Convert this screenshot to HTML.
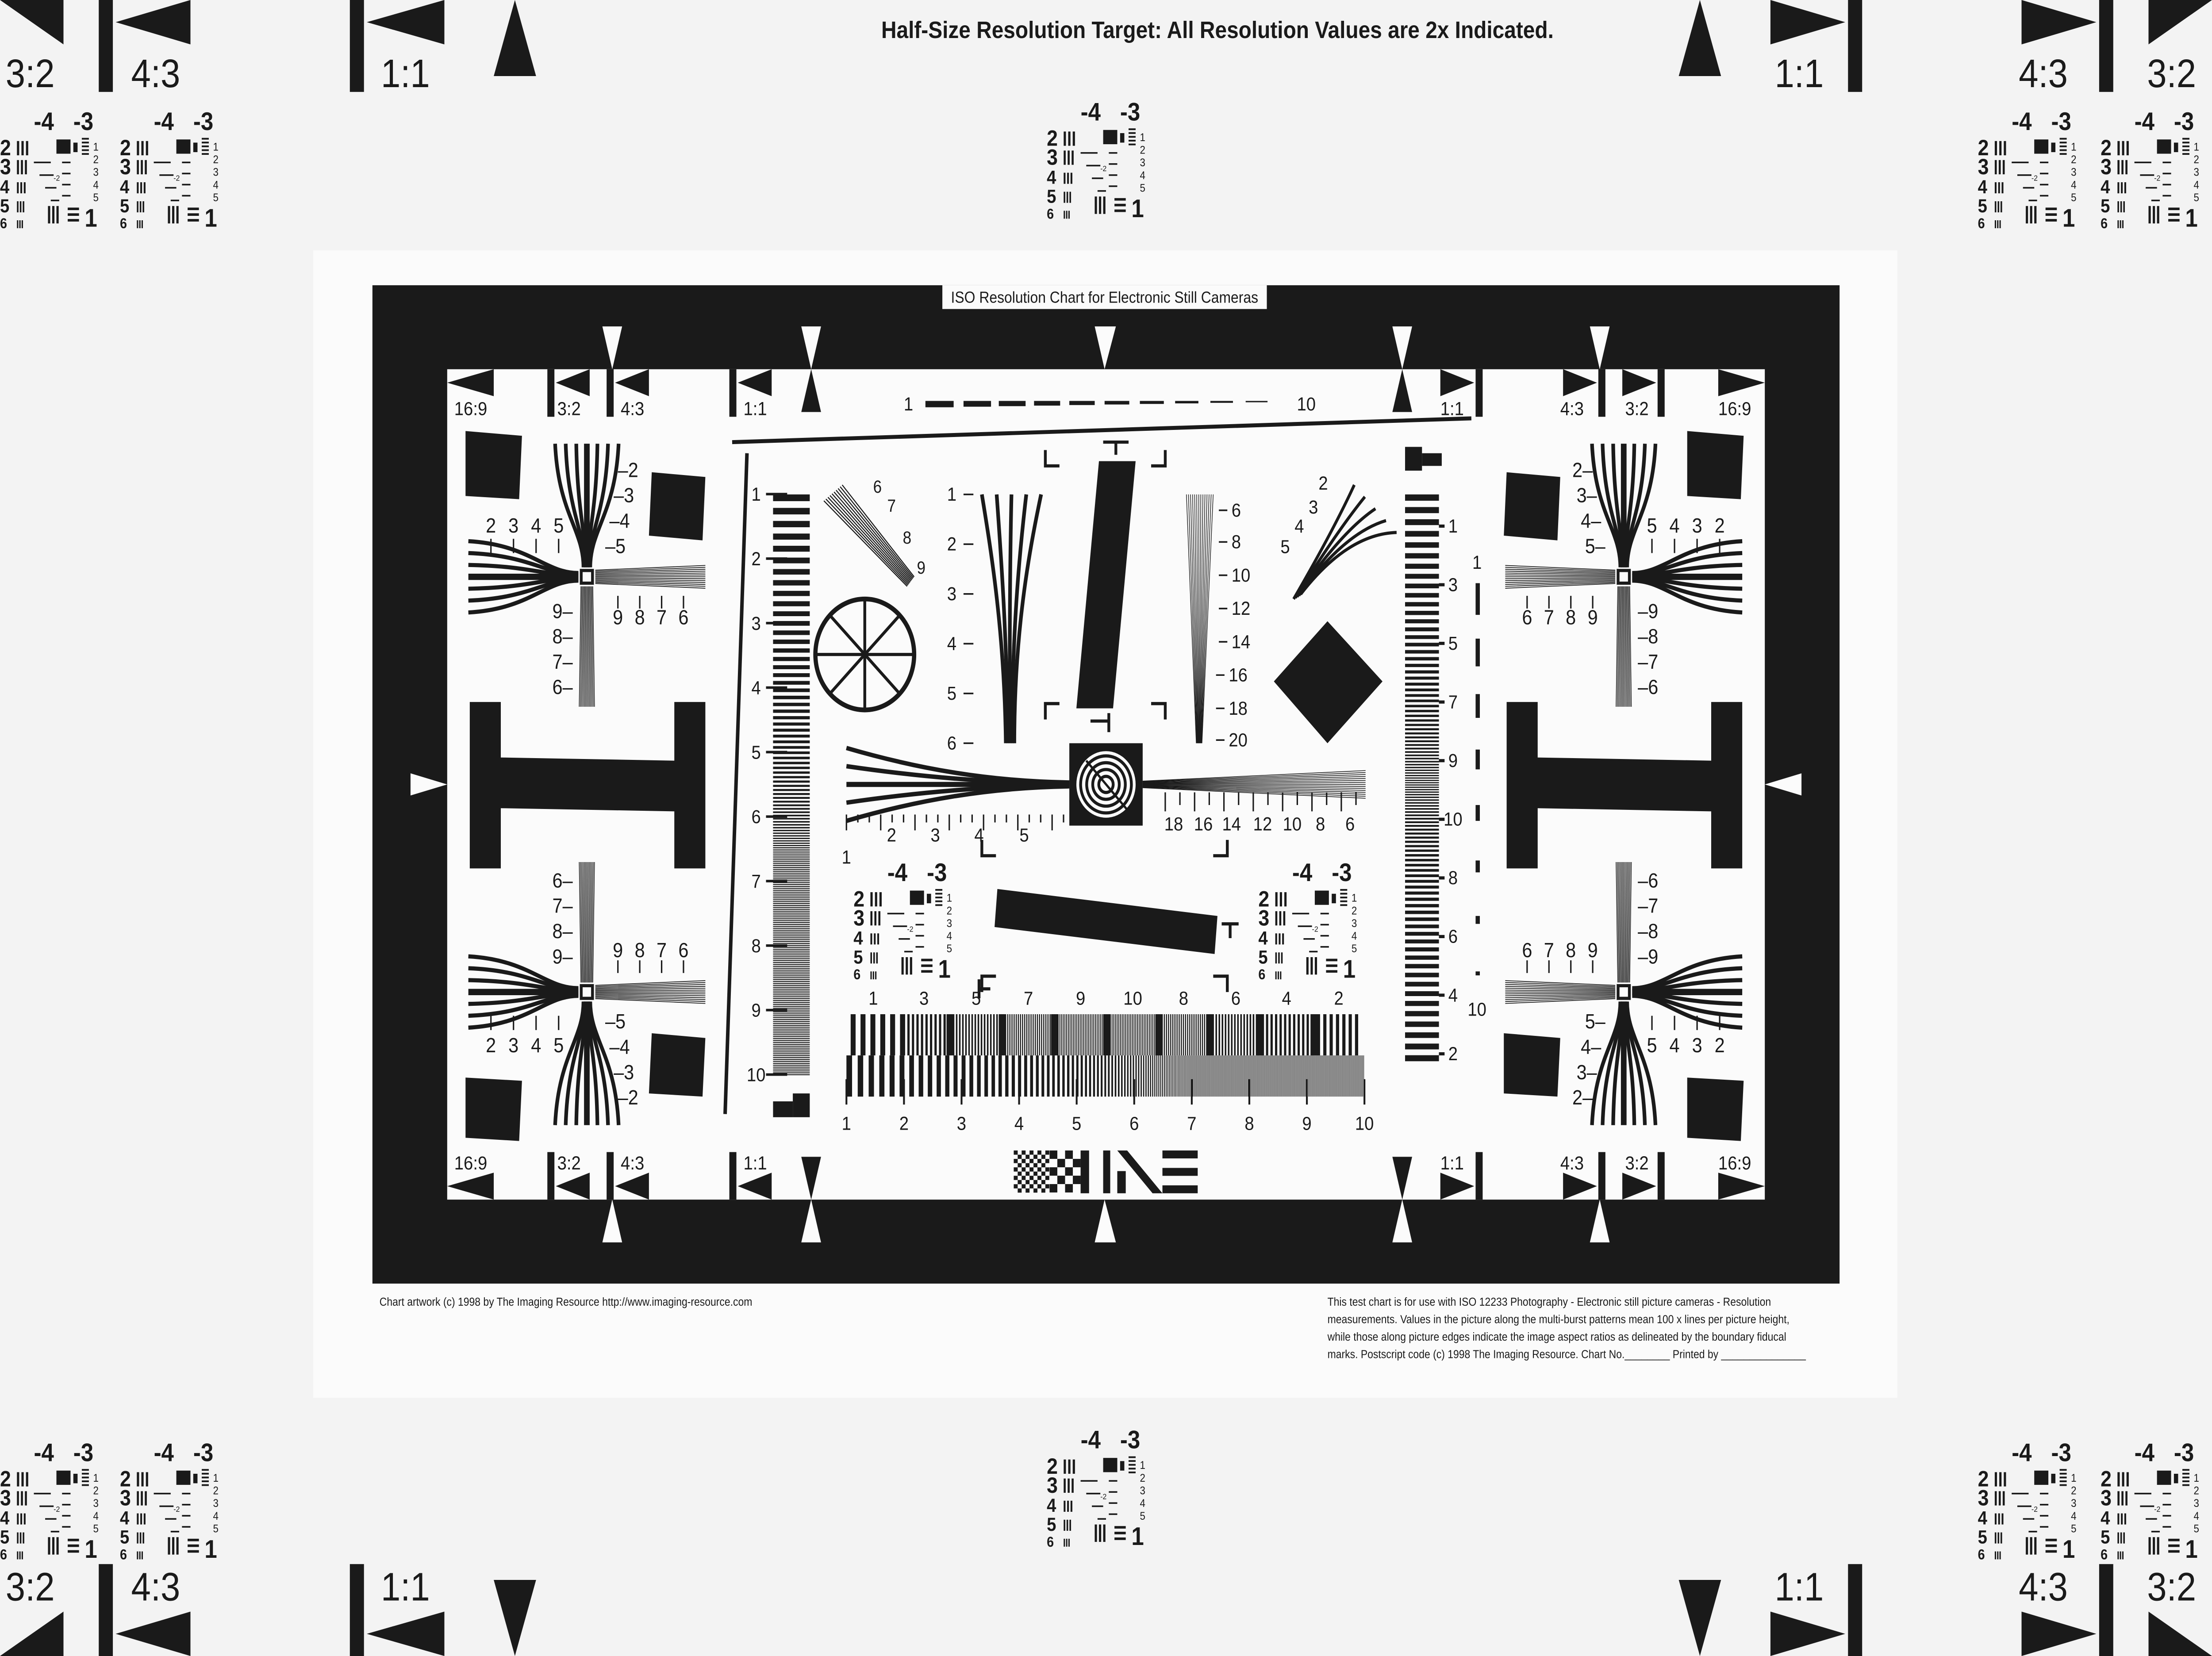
<!DOCTYPE html>
<html><head><meta charset="utf-8">
<style>
html,body{margin:0;padding:0;background:#f3f3f3;width:100%;height:100%;overflow:hidden;}
svg{display:block;position:absolute;left:0;top:0;width:100vw;height:100vh;}
text{font-family:"Liberation Sans",sans-serif;fill:#1a1a1a;}
</style></head>
<body>
<svg id="s" viewBox="0 0 1568 1045" preserveAspectRatio="none" xmlns="http://www.w3.org/2000/svg">
<rect x="0" y="0" width="1568" height="1045" fill="#f3f3f3"/>
<g fill="#1a1a1a">
<polygon points="0,0 45,0 45,28"/><rect x="70" y="0" width="10" height="58"/><polygon points="82,14 135,0 135,28"/>
<rect x="248" y="0" width="10" height="58"/><polygon points="260,14 315,0 315,28"/>
<polygon points="365,0 380,48 350,48"/>
<polygon points="1568,0 1523,0 1523,28"/><rect x="1488" y="0" width="10" height="58"/><polygon points="1486,14 1433,0 1433,28"/>
<rect x="1310" y="0" width="10" height="58"/><polygon points="1308,14 1255,0 1255,28"/>
<polygon points="1205,0 1220,48 1190,48"/>
<polygon points="0,1045 45,1045 45,1017"/><rect x="70" y="987" width="10" height="58"/><polygon points="82,1031 135,1017 135,1045"/>
<rect x="248" y="987" width="10" height="58"/><polygon points="260,1031 315,1017 315,1045"/>
<polygon points="350,997 380,997 365,1045"/>
<polygon points="1568,1045 1523,1045 1523,1017"/><rect x="1488" y="987" width="10" height="58"/><polygon points="1486,1031 1433,1017 1433,1045"/>
<rect x="1310" y="987" width="10" height="58"/><polygon points="1308,1031 1255,1017 1255,1045"/>
<polygon points="1190,997 1220,997 1205,1045"/>
</g>
<g font-size="25">
<text x="4" y="55">3:2</text><text x="93" y="55">4:3</text><text x="270" y="55">1:1</text>
<text x="1258" y="55">1:1</text><text x="1431" y="55">4:3</text><text x="1522" y="55">3:2</text>
<text x="4" y="1010">3:2</text><text x="93" y="1010">4:3</text><text x="270" y="1010">1:1</text>
<text x="1258" y="1010">1:1</text><text x="1431" y="1010">4:3</text><text x="1522" y="1010">3:2</text>
</g>
<text x="863" y="24" font-size="15" font-weight="bold" text-anchor="middle">Half-Size Resolution Target: All Resolution Values are 2x Indicated.</text>
<rect x="222" y="158" width="1123" height="724" fill="#fbfbfb"/>
<rect x="264" y="180" width="1040" height="630" fill="#1a1a1a"/>
<rect x="317" y="233" width="934" height="524" fill="#fbfbfb"/>
<rect x="668" y="180" width="230" height="15" fill="#fbfbfb"/>
<text x="783" y="191" font-size="10" text-anchor="middle">ISO Resolution Chart for Electronic Still Cameras</text>
<g id="g"></g>
<g font-size="7.2">
<text x="269" y="824">Chart artwork (c) 1998 by The Imaging Resource http://www.imaging-resource.com</text>
<text x="941" y="824">This test chart is for use with ISO 12233 Photography - Electronic still picture cameras - Resolution</text>
<text x="941" y="835">measurements. Values in the picture along the multi-burst patterns mean 100 x lines per picture height,</text>
<text x="941" y="846">while those along picture edges indicate the image aspect ratios as delineated by the boundary fiducal</text>
<text x="941" y="857">marks. Postscript code  (c) 1998 The Imaging Resource. Chart No.________ Printed by _______________</text>
</g>
</svg>
<script>
(function(){
var NS="http://www.w3.org/2000/svg",G=document.getElementById("g");
var cur=G;
function el(n,at,txt){var e=document.createElementNS(NS,n);for(var k in at)e.setAttribute(k,at[k]);if(txt!=null)e.textContent=txt;cur.appendChild(e);return e;}
function R(x,y,w,h,f){el("rect",{x:x,y:y,width:w,height:h,fill:f||"#1a1a1a"});}
function P(p,f){el("polygon",{points:p,fill:f||"#1a1a1a"});}
function L(x1,y1,x2,y2,w){el("line",{x1:x1,y1:y1,x2:x2,y2:y2,stroke:"#1a1a1a","stroke-width":w||1});}
function T(x,y,t,s,anc,b){var o={x:x,y:y,"font-size":s||12};if(anc)o["text-anchor"]=anc;if(b)o["font-weight"]="bold";el("text",o,t);}
function Pa(d,w){el("path",{d:d,fill:"none",stroke:"#1a1a1a","stroke-width":w||1});}
function grp(tr){var g=el("g",{transform:tr});cur=g;return g;}
function end(){cur=G;}
var i;
function fid(dir){
  var yb=dir>0?233:757, yt=dir>0?250:740, yc=(yb+yt)/2, by=dir>0?233:727;
  P("291,"+yb+" 317,"+yc+" 291,"+yt); P("317,"+yc+" 350,"+yb+" 350,"+yt);
  R(388,by,5,30); P("394,"+yc+" 418,"+yb+" 418,"+yt);
  R(430,by,5,30); P("436,"+yc+" 460,"+yb+" 460,"+yt);
  R(517,by,5,30); P("523,"+yc+" 547,"+yb+" 547,"+yt);
  P("1277,"+yb+" 1251,"+yc+" 1277,"+yt); P("1251,"+yc+" 1218,"+yb+" 1218,"+yt);
  R(1175,by,5,30); P("1174,"+yc+" 1150,"+yb+" 1150,"+yt);
  R(1133,by,5,30); P("1132,"+yc+" 1108,"+yb+" 1108,"+yt);
  R(1046,by,5,30); P("1045,"+yc+" 1021,"+yb+" 1021,"+yt);
}
fid(1);fid(-1);
[434,1134].forEach(function(x){P((x-7)+",206 "+(x+7)+",206 "+x+",233","#fbfbfb");P((x-7)+",784 "+(x+7)+",784 "+x+",757","#fbfbfb");});
[575,994].forEach(function(x){P((x-7)+",206 "+(x+7)+",206 "+x+",233","#fbfbfb");P((x-7)+",260 "+(x+7)+",260 "+x+",233");
  P((x-7)+",784 "+(x+7)+",784 "+x+",757","#fbfbfb");P((x-7)+",730 "+(x+7)+",730 "+x+",757");});
P("776,206 791,206 783,233","#fbfbfb");P("776,784 791,784 783,757","#fbfbfb");
P("291,488 317,495 291,502","#fbfbfb");P("1277,488 1251,495 1277,502","#fbfbfb");
[["16:9",322,262],["3:2",395,262],["4:3",440,262],["1:1",527,262],["1:1",1021,262],["4:3",1106,262],["3:2",1152,262],["16:9",1218,262]].forEach(function(v){
 T(v[1],v[2],v[0],12);T(v[1],v[2]+476,v[0],12);});
[[330,272,370,275,368,315,330,313],[462,298,500,301,498,341,460,338],
 [1196,272,1236,275,1234,315,1196,313],[1068,298,1106,301,1104,341,1066,338],
 [330,680,370,682,368,720,330,718],[462,652,500,655,498,692,460,690],
 [1066,652,1106,655,1104,692,1066,690],[1196,680,1236,682,1234,720,1196,718]].forEach(function(p){
 P(p[0]+","+p[1]+" "+p[2]+","+p[3]+" "+p[4]+","+p[5]+" "+p[6]+","+p[7]);});
function H(x){P((x)+",443 "+(x+22)+",443 "+(x+22)+",478 "+(x+145)+",480 "+(x+145)+",443 "+(x+167)+",443 "+(x+167)+",548 "+(x+145)+",548 "+(x+145)+",512 "+(x+22)+",510 "+(x+22)+",548 "+x+",548");}
H(333);H(1068);
function cross(cx,cy,sx,sy){
 grp("translate("+cx+","+cy+") scale("+sx+","+sy+")");
 for(i=-3;i<=3;i++){var d=i*7.5;Pa("M"+d+",-84 C"+(d*0.9)+",-40 "+(i*0.8)+",-30 "+(i*0.8)+",-6",i==0?4:2.6);}
 for(i=-3;i<=3;i++){var d=i*7.5;Pa("M-84,"+d+" C-40,"+(d*0.9)+" -30,"+(i*0.8)+" -6,"+(i*0.8),i==0?4:2.6);}
 for(i=-6;i<=6;i++){L(i*0.7,6,i*0.9,82,0.5);L(6,i*0.7,84,i*1.2,0.5);}
 el("rect",{x:-4,y:-4,width:8,height:8,fill:"#fbfbfb",stroke:"#1a1a1a","stroke-width":2});
 end();
}
cross(416,364,1,1);cross(416,626,1,-1);cross(1151,364,-1,1);cross(1151,626,-1,-1);
function labs(cx,cy,sx,sy){
 var v=["2","3","4","5"],w=["9","8","7","6"];
 for(var k=0;k<4;k++){
  T(cx+sx*(22+k*-3),cy+sy*(-67+k*16)+4,(sx>0?"–":"")+v[k]+(sx<0?"–":""),13,sx>0?"start":"end");
  T(cx-sx*(68-k*16),cy+sy*(-28)+(sy>0?0:10),v[k],13,"middle");
  L(cx-sx*(68-k*16),cy+sy*(-24),cx-sx*(68-k*16),cy+sy*(-15),1);
  T(cx-sx*(10),cy+sy*(22+k*16)+4,(sx<0?"–":"")+w[k]+(sx>0?"–":""),13,sx>0?"end":"start");
  T(cx+sx*(22+k*15.5),cy+sy*(30)+(sy>0?0:8),w[k],13,"middle");
  L(cx+sx*(22+k*15.5),cy+sy*(12),cx+sx*(22+k*15.5),cy+sy*(20),1);
 }
}
labs(416,364,1,1);labs(416,626,1,-1);labs(1151,364,-1,1);labs(1151,626,-1,-1);
L(519,279,1043,264,2.5);L(529.5,286,514,703,2.5);
T(644,259,"1",12,"middle");T(926,259,"10",12,"middle");
var xs=[656,683,708,733,758,783,808,833,858,883,908];
for(i=0;i<10;i++){R(xs[i],253,20-i*0.5,Math.max(0.6,4-i*0.35));}
// left ladder chirp
for(i=0;i<10;i++){T(536,316+i*40.7,String(i+1),12,"middle");R(543,311+i*40.7,15,1.6);}
(function(){var y=312;while(y<678){var p=Math.max(1.2,8.5-(y-312)*0.032);R(548,y,26,p/2);y+=p;}})();
R(548,695,14,10);R(562,690,12,15);
// right ladder symmetric chirp
R(996,282,12,15);R(1008,286,14,8);
(function(){var y=312;while(y<672){var d=Math.abs(y-494)/180;var p=Math.max(1.4,1.4+d*6.5);R(996,y,24,p/2);y+=p;}})();
[1,3,5,7,9,10,8,6,4,2].forEach(function(v,k){T(1030,336+k*37,String(v),12,"middle");L(1020,332+k*37,1024,332+k*37,2);});
T(1047,359,"1",12,"middle");T(1047,641,"10",12,"middle");
for(i=0;i<8;i++){R(1046,368+i*35,3,Math.max(1,20-i*2.5));}
el("circle",{cx:613,cy:413,r:35,fill:"none",stroke:"#1a1a1a","stroke-width":3});
for(i=0;i<4;i++){var an=i*Math.PI/4;L(613-35*Math.cos(an),413-35*Math.sin(an),613+35*Math.cos(an),413+35*Math.sin(an),2);}
P("941,392 980,430 941,469 903,430");
P("779,291 805,291 789,447 763,447");
P("707,561 863,578 861,602 705,585");
function br(x,y,dx,dy){el("path",{d:"M"+x+","+(y+dy*10)+" L"+x+","+y+" L"+(x+dx*10)+","+y,fill:"none",stroke:"#1a1a1a","stroke-width":2});}
br(741,294,1,-1);br(826,294,-1,-1);br(741,444,1,1);br(826,444,-1,1);
br(696,540,1,-1);br(870,540,-1,-1);br(696,616,1,1);br(870,616,-1,1);
L(782,279,800,279,2);L(791,279,791,287,2);
L(773,455,786,455,2);L(786,450,786,462,2);
L(694,624,702,624,2);L(694,618,694,630,2);L(866,583,878,583,2);L(872,583,872,592,2);
// vertical fans
for(i=0;i<5;i++){var t=i/4;Pa("M"+(696+t*42)+",312 C"+(703+t*26)+",350 "+(712+t*7)+",400 "+(713+t*6)+",469",2.6);}
for(i=0;i<14;i++){var t=i/13;L(841+t*19,312,848+t*4,469,0.45);}
for(i=0;i<6;i++){T(678,316+i*31.4,String(i+1),12,"end");L(683,312+i*31.4,690,312+i*31.4,1);}
[["6",880,326],["8",880,346],["10",880,367],["12",880,388],["14",880,409],["16",878,430],["18",878,451],["20",878,471]].forEach(function(v){T(v[1]-7,v[2],v[0],12,"start");L(v[1]-16,v[2]-4,v[1]-10,v[2]-4,1);});
// diagonal fan left
for(i=0;i<10;i++){var t=i/9;L(584+13*t,316-10*t,643+5*t,370-6*t,0.7);}
T(622,311,"6",11,"middle");T(632,323,"7",11,"middle");T(643,343,"8",11,"middle");T(653,362,"9",11,"middle");
// diagonal fan right
for(i=0;i<5;i++){var t=i/4;Pa("M"+(917+t*5)+","+(378-t*3)+" Q"+(945+t*10)+","+(335+t*2)+" "+(960+t*30)+","+(306+t*30),2);}
T(938,309,"2",12,"middle");T(931,324,"3",12,"middle");T(921,336,"4",12,"middle");T(911,349,"5",12,"middle");
// center horizontal fan
for(i=-2;i<=2;i++){Pa("M600,"+(495+i*11.5)+" C650,"+(495+i*5)+" 700,"+(495+i*1)+" 758,"+(495+i*0.6),i==0?3.2:2.8);}
for(i=-7;i<=7;i++){L(810,495+i*0.3,968,495+i*1.25,0.45);}
R(758,469,52,52);
el("circle",{cx:784,cy:495,r:21,fill:"#fbfbfb"});
for(i=0;i<4;i++){el("circle",{cx:784,cy:495,r:18-i*4.3,fill:"none",stroke:"#1a1a1a","stroke-width":2});}
L(770,480,800,512,1.5);
for(i=0;i<20;i++){var x=600+i*8.1;L(x,514,x,i%3==0?524:519,1);}
for(i=0;i<14;i++){var x=826+i*10.4;L(x,500,x,i%2==0?512:508,1);}
T(600,545,"1",12,"middle");
[["2",632],["3",663],["4",694],["5",726]].forEach(function(v){T(v[1],531,v[0],12,"middle");});
[["18",832],["16",853],["14",873],["12",895],["10",916],["8",936],["6",957]].forEach(function(v){T(v[1],524,v[0],12,"middle");});
function mini(x,y){
 grp("translate("+x+","+y+")");
 T(24,16,"-4",16,"start",true);T(52,16,"-3",16,"start",true);
 var r=[["2",32],["3",44],["4",56],["5",68],["6",78]];
 r.forEach(function(v,k){T(0,v[1],v[0],k<2?14:(k<4?12:9),"start",true);
   var hh=k<2?9:(k<4?7:5);for(var j=0;j<3;j++){R(12+j*3.2*(1-k*0.12),v[1]-hh,1.6*(1-k*0.1),hh);}});
 R(40,22,10,9);R(52,24,3,6);
 for(var j=0;j<5;j++){R(58,21+j*2.4,5,1.1);T(66,29+j*8,String(j+1),7);}
 for(var j=0;j<4;j++){R(24+j*4,36+j*8,12-j*2,1);R(44,36+j*7,6,1);}
 T(38,48,"-2",5);
 for(var j=0;j<3;j++){R(34+j*3,64,1.6,11);}
 for(var j=0;j<3;j++){R(48,65+j*3.6,8,1.6);}
 T(60,77,"1",16,"start",true);
 end();
}
[[742,60],[742,898],[0,66],[85,66],[1402,66],[1489,66],[0,906],[85,906],[1402,906],[1489,906],[605,540],[892,540]].forEach(function(p){mini(p[0],p[1]);});
[1,3,5,7,9,10,8,6,4,2].forEach(function(v,k){var x=[619,655,692,729,766,803,839,876,912,949][k];T(x,634,String(v),12,"middle");});
// multiburst top row
var bnd=[603,640,671,708,745,782,819,855,891,929,964],per=[7,3.2,2.2,1.5,1.2,1.2,1.5,2.2,3.2,4.5];
for(i=0;i<10;i++){var x=bnd[i];while(x<bnd[i+1]-0.3){R(x,640,per[i]/2,26);x+=per[i];}}
[671,708,745,782,819,855,891,929].forEach(function(x){R(x,640,5,26);});
// bottom chirp
(function(){var x=600;while(x<967){var p=Math.max(0.7,8-(x-600)*0.03);R(x,666,p/2,26);x+=p;}})();
[1,2,3,4,5,6,7,8,9,10].forEach(function(v,k){T(600+k*40.8,713,String(v),12,"middle");L(600+k*40.8,681,600+k*40.8,697,1.3);});
for(var cy=0;cy<10;cy++)for(var cx=0;cx<9;cx++){if((cx+cy)%2==0)R(718.6+cx*2.8,726+cy*2.66,2.8,2.66);}
for(var cy=0;cy<5;cy++)for(var cx=0;cx<4;cx++){if((cx+cy)%2==0)R(744+cx*5.5,726+cy*5.3,5.5,5.3);}
R(766,726,6,27);R(782,726,5,27);P("792,726 799,726 824,753 817,753");R(792,739,6,14);
R(824,726,25,5);R(824,737,25,5);R(824,748,25,5);
})();
</script>
</body></html>
